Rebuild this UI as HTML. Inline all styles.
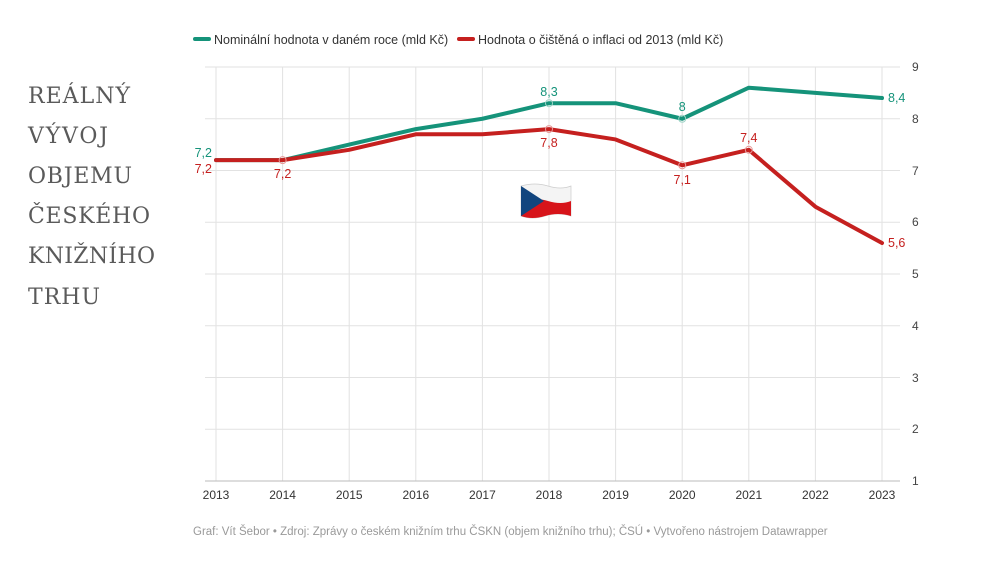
<!DOCTYPE html>
<html><head><meta charset="utf-8"><style>
html,body{margin:0;padding:0;background:#fff;width:1000px;height:568px;overflow:hidden}
text{font-family:"Liberation Sans",sans-serif}
</style></head><body>
<svg width="1000" height="568" xmlns="http://www.w3.org/2000/svg">
<g font-size="22" fill="#5a5a5a">
<text x="28" y="103" textLength="102" style="font-family:'DejaVu Serif',serif">REÁLNÝ</text>
<text x="28" y="143" textLength="80" style="font-family:'DejaVu Serif',serif">VÝVOJ</text>
<text x="28" y="183" textLength="104" style="font-family:'DejaVu Serif',serif">OBJEMU</text>
<text x="28" y="223" textLength="122" style="font-family:'DejaVu Serif',serif">ČESKÉHO</text>
<text x="28" y="263" textLength="127" style="font-family:'DejaVu Serif',serif">KNIŽNÍHO</text>
<text x="28" y="304" textLength="72" style="font-family:'DejaVu Serif',serif">TRHU</text>
</g>
<rect x="193" y="37" width="18" height="4" rx="2" fill="#15937a"/>
<text x="214" y="44" font-size="12.5" fill="#333">Nominální hodnota v daném roce (mld Kč)</text>
<rect x="457" y="37" width="18" height="4" rx="2" fill="#c5201f"/>
<text x="478" y="44" font-size="12.5" fill="#333">Hodnota o čištěná o inflaci od 2013 (mld Kč)</text>
<g stroke="#e2e2e2" stroke-width="1">
<line x1="205" x2="900" y1="67" y2="67"/><line x1="205" x2="900" y1="118.75" y2="118.75"/>
<line x1="205" x2="900" y1="170.5" y2="170.5"/><line x1="205" x2="900" y1="222.25" y2="222.25"/>
<line x1="205" x2="900" y1="274" y2="274"/><line x1="205" x2="900" y1="325.75" y2="325.75"/>
<line x1="205" x2="900" y1="377.5" y2="377.5"/><line x1="205" x2="900" y1="429.25" y2="429.25"/>
<line x1="216" x2="216" y1="67" y2="481"/><line x1="282.6" x2="282.6" y1="67" y2="481"/>
<line x1="349.2" x2="349.2" y1="67" y2="481"/><line x1="415.8" x2="415.8" y1="67" y2="481"/>
<line x1="482.4" x2="482.4" y1="67" y2="481"/><line x1="549" x2="549" y1="67" y2="481"/>
<line x1="615.6" x2="615.6" y1="67" y2="481"/><line x1="682.2" x2="682.2" y1="67" y2="481"/>
<line x1="748.8" x2="748.8" y1="67" y2="481"/><line x1="815.4" x2="815.4" y1="67" y2="481"/>
<line x1="882" x2="882" y1="67" y2="481"/>
</g>
<line x1="205" x2="900" y1="481" y2="481" stroke="#bbb" stroke-width="1"/>
<g font-size="12" fill="#444">
<text x="912" y="71">9</text><text x="912" y="123">8</text><text x="912" y="175">7</text>
<text x="912" y="226">6</text><text x="912" y="278">5</text><text x="912" y="330">4</text>
<text x="912" y="382">3</text><text x="912" y="433">2</text><text x="912" y="485">1</text>
</g>
<g font-size="12" fill="#333" text-anchor="middle">
<text x="216" y="499">2013</text><text x="282.6" y="499">2014</text><text x="349.2" y="499">2015</text>
<text x="415.8" y="499">2016</text><text x="482.4" y="499">2017</text><text x="549" y="499">2018</text>
<text x="615.6" y="499">2019</text><text x="682.2" y="499">2020</text><text x="748.8" y="499">2021</text>
<text x="815.4" y="499">2022</text><text x="882" y="499">2023</text>
</g>
<polyline fill="none" stroke="#15937a" stroke-width="4" stroke-linejoin="round" stroke-linecap="round"
points="216,160.15 282.6,160.15 349.2,144.6 415.8,129.1 482.4,118.75 549,103.2 615.6,103.2 682.2,118.75 748.8,87.7 815.4,92.9 882,98.05"/>
<polyline fill="none" stroke="#c5201f" stroke-width="4" stroke-linejoin="round" stroke-linecap="round"
points="216,160.15 282.6,160.15 349.2,149.8 415.8,134.3 482.4,134.3 549,129.1 615.6,139.45 682.2,165.3 748.8,149.8 815.4,206.7 882,243"/>
<g fill="none" stroke-width="1">
<circle cx="549" cy="103.2" r="3.5" stroke="#9fd4c7"/><circle cx="682.2" cy="118.75" r="3.5" stroke="#9fd4c7"/>
<circle cx="282.6" cy="160.15" r="3.5" stroke="#e89a99"/><circle cx="549" cy="129.1" r="3.5" stroke="#e89a99"/>
<circle cx="682.2" cy="165.3" r="3.5" stroke="#e89a99"/><circle cx="748.8" cy="149.8" r="3.5" stroke="#e89a99"/>
</g>
<g font-size="12.5" fill="#15937a">
<text x="212" y="157" text-anchor="end">7,2</text>
<text x="549" y="96" text-anchor="middle">8,3</text>
<text x="682.2" y="111" text-anchor="middle">8</text>
<text x="888" y="102">8,4</text>
</g>
<g font-size="12.5" fill="#c5201f">
<text x="212" y="173" text-anchor="end">7,2</text>
<text x="282.6" y="178" text-anchor="middle">7,2</text>
<text x="549" y="147" text-anchor="middle">7,8</text>
<text x="682.2" y="184" text-anchor="middle">7,1</text>
<text x="748.8" y="142" text-anchor="middle">7,4</text>
<text x="888" y="247">5,6</text>
</g>
<g>
<path d="M521,186 Q535,182 548,186 T571,186 L571,216 Q558,212 545,216 T521,216 Z" fill="#f4f4f4" stroke="#ccc" stroke-width="0.7"/>
<path d="M521,201 Q535,197 548,201 T571,201 L571,216 Q558,212 545,216 T521,216 Z" fill="#d7141a"/>
<path d="M521,186 L544,201 L521,216 Z" fill="#11457e"/>
</g>
<text x="193" y="535" font-size="11.5" fill="#999">Graf: Vít Šebor • Zdroj: Zprávy o českém knižním trhu ČSKN (objem knižního trhu); ČSÚ • Vytvořeno nástrojem Datawrapper</text>
</svg>
</body></html>
